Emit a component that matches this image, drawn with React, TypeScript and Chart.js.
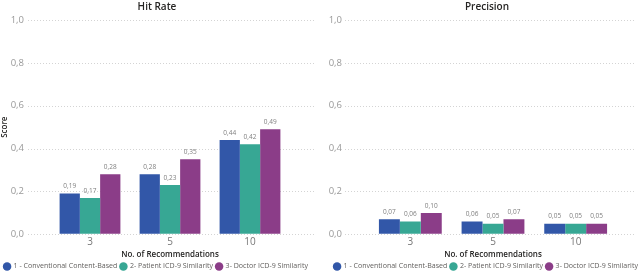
import React, { useEffect, useRef } from "react";
import { Chart, registerables } from "chart.js";

Chart.register(...registerables);

const categories = ["3", "5", "10"];
const seriesNames = [
  "1 - Conventional Content-Based",
  "2- Patient ICD-9 Similarity",
  "3- Doctor ICD-9 Similarity",
];
const seriesColors = ["#3257A8", "#37A794", "#8B3D88"];
const hitRateConventional = [0.19, 0.28, 0.44];
const hitRatePatient = [0.17, 0.23, 0.42];
const hitRateDoctor = [0.28, 0.35, 0.49];
const precisionConventional = [0.07, 0.06, 0.05];
const precisionPatient = [0.06, 0.05, 0.05];
const precisionDoctor = [0.1, 0.07, 0.05];
const yTicks = [0, 0.2, 0.4, 0.6, 0.8, 1.0];

const FONT = "'Open Sans', 'Noto Sans', sans-serif";
const fmt = (v: number, d: number) => v.toFixed(d).replace(".", ",");

const gridPlugin = {
  id: "dottedGrid",
  beforeDatasetsDraw(chart: any, _a: any, opts: any) {
    const { ctx, chartArea } = chart;
    const y = chart.scales.y;
    ctx.save();
    ctx.strokeStyle = "#d4d4d4";
    ctx.lineWidth = 1;
    ctx.setLineDash([1, 2]);
    y.ticks.forEach((t: any) => {
      const py = Math.round(y.getPixelForValue(t.value)) + 0.5;
      ctx.beginPath();
      ctx.moveTo(chartArea.left - (opts.extLeft || 0), py);
      ctx.lineTo(chartArea.right + (opts.extRight || 0), py);
      ctx.stroke();
    });
    ctx.restore();
  },
};

const boxShiftPlugin = {
  id: "boxShift",
  afterLayout(chart: any, _a: any, opts: any) {
    const lg = chart.legend;
    if (lg && opts.legend) {
      lg.left += opts.legend;
      lg.right += opts.legend;
    }
    const tb = chart.titleBlock;
    if (tb && opts.title) {
      tb.left += opts.title;
      tb.right += opts.title;
    }
  },
};

const labelPlugin = {
  id: "barLabels",
  afterDatasetsDraw(chart: any) {
    const { ctx } = chart;
    ctx.save();
    ctx.font = `6.5px ${FONT}`;
    ctx.fillStyle = "#808080";
    ctx.textAlign = "center";
    ctx.textBaseline = "bottom";
    chart.data.datasets.forEach((ds: any, i: number) => {
      const meta = chart.getDatasetMeta(i);
      meta.data.forEach((el: any, j: number) => {
        ctx.fillText(fmt(ds.data[j], 2), el.x, el.y - 4);
      });
    });
    ctx.restore();
  },
};

interface Layout {
  legendShift: number;
  titleShift: number;
  chartLeft: number;
  labelRight: number;
  chartRight: number;
  extLeft: number;
  extRight: number;
}

function makeConfig(
  title: string,
  data: number[][],
  showYTitle: boolean,
  L: Layout
): any {
  const yWidth = L.chartLeft;
  const rightWidth = 320 - L.chartRight;
  return {
    type: "bar",
    data: {
      labels: categories,
      datasets: data.map((d, i) => ({
        label: seriesNames[i],
        data: d,
        backgroundColor: seriesColors[i],
        borderWidth: 0,
        categoryPercentage: 0.76,
        barPercentage: 1.0,
      })),
    },
    plugins: [gridPlugin, labelPlugin, boxShiftPlugin],
    options: {
      animation: false,
      responsive: false,
      devicePixelRatio: 1,
      layout: {
        padding: { top: 0, bottom: -9, left: 0, right: 0 },
      },
      plugins: {
        dottedGrid: { extLeft: L.extLeft, extRight: L.extRight },
        boxShift: { legend: L.legendShift, title: L.titleShift },
        title: {
          display: true,
          text: title,
          color: "#252423",
          font: { family: FONT, size: 10, weight: "600" },
          padding: { top: 1.5, bottom: 6.5 },
        },
        legend: {
          position: "bottom",
          align: "center",
          labels: {
            usePointStyle: true,
            pointStyle: "circle",
            boxWidth: 6,
            boxHeight: 6,
            padding: 3,
            color: "#605E5C",
            font: { family: FONT, size: 7.05 },
          },
        },
        tooltip: { enabled: false },
      },
      scales: {
        x: {
          grid: { display: false, drawTicks: false },
          border: { display: false },
          ticks: {
            color: "#777777",
            padding: 2,
            font: { family: FONT, size: 10 },
          },
          title: {
            display: true,
            text: "No. of Recommendations",
            color: "#252423",
            font: { family: FONT, size: 8, weight: "600" },
            padding: { top: 0, bottom: 0 },
          },
        },
        y: {
          min: 0,
          max: 1,
          afterBuildTicks: (s: any) => {
            s.ticks = yTicks.map((v) => ({ value: v }));
          },
          afterFit: (s: any) => {
            s.width = yWidth;
          },
          grid: {
            display: true,
            drawOnChartArea: false,
            drawTicks: true,
            tickLength: L.chartLeft - L.labelRight,
            tickColor: "rgba(0,0,0,0)",
          },
          border: { display: false },
          ticks: {
            color: "#999999",
            padding: 0,
            font: { family: FONT, size: 9.5 },
            callback: (v: any) => fmt(Number(v), 1),
          },
          title: {
            display: showYTitle,
            text: "Score",
            color: "#252423",
            font: { family: FONT, size: 8, weight: "600" },
            padding: { top: 0, bottom: 0 },
          },
        },
        y2: {
          position: "right",
          display: true,
          min: 0,
          max: 1,
          afterFit: (s: any) => {
            s.width = rightWidth;
          },
          grid: { display: false, drawTicks: false },
          border: { display: false },
          ticks: { display: false, padding: 0 },
        },
      },
    },
  };
}

function ChartBox({ config }: { config: any }) {
  const ref = useRef<HTMLCanvasElement | null>(null);
  useEffect(() => {
    const chart = new Chart(ref.current as HTMLCanvasElement, config);
    return () => chart.destroy();
  }, []);
  return (
    <div style={{ width: 320, height: 271 }}>
      <canvas
        ref={ref}
        width={320}
        height={271}
        style={{ display: "block", width: 320, height: 271 }}
      />
    </div>
  );
}

export default function App() {
  const left = makeConfig(
    "Hit Rate",
    [hitRateConventional, hitRatePatient, hitRateDoctor],
    true,
    { legendShift: -4, titleShift: -3, chartLeft: 50, labelRight: 24, chartRight: 290, extLeft: 22, extRight: 26 }
  );
  const right = makeConfig(
    "Precision",
    [precisionConventional, precisionPatient, precisionDoctor],
    false,
    { legendShift: 6, titleShift: 7, chartLeft: 49, labelRight: 22, chartRight: 297, extLeft: 24, extRight: 19 }
  );
  return (
    <div
      style={{
        position: "fixed",
        top: 0,
        left: 0,
        width: 640,
        height: 271,
        display: "flex",
        background: "#ffffff",
      }}
    >
      <ChartBox config={left} />
      <ChartBox config={right} />
    </div>
  );
}
